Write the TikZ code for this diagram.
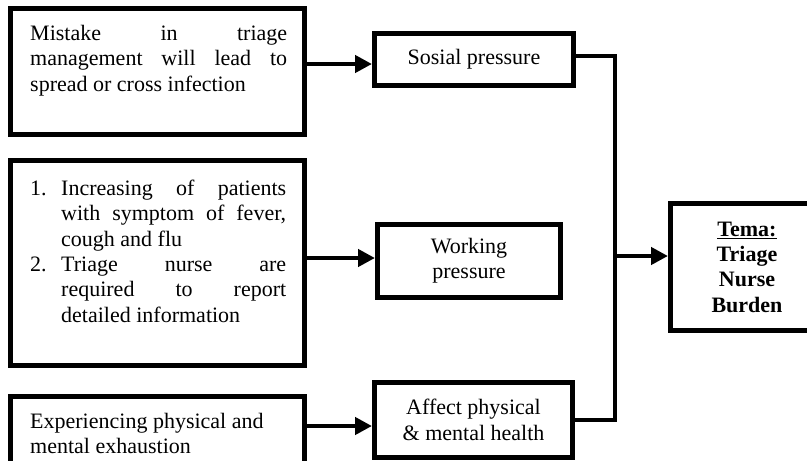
\documentclass[tikz,border=0pt]{standalone}
\usepackage{fontspec}
\setmainfont{Liberation Serif}
\usetikzlibrary{arrows.meta}
\begin{document}
\begin{tikzpicture}[x=1pt,y=-1pt,
  box/.style={draw,line width=5pt,rectangle,inner sep=0pt},
  txt/.style={inner sep=0pt,font=\fontsize{22}{25.3}\selectfont,align=left},
  ctxt/.style={font=\fontsize{22}{25.3}\selectfont,align=center},
  conn/.style={line width=4.5pt},
  arr/.style={line width=4.5pt,-{Triangle[length=17pt,width=17pt]}}]
\useasboundingbox (0,0) rectangle (807,461);
\clip (0,0) rectangle (807,461);
% left boxes
\node[box,minimum width=294pt,minimum height=126pt] (boxA) at (157.5,71.5) {};
\node[box,minimum width=294pt,minimum height=205pt] (boxB) at (157.5,263) {};
\node[box,minimum width=294pt,minimum height=100pt] (boxC) at (157.5,446.5) {};
\node[txt,anchor=north west] (tA) at (30,25) {%
\hbox to 257pt{Mistake\hfill in\hfill triage}\\
\hbox to 257pt{management\hfill will\hfill lead\hfill to}\\
spread or cross infection};
\node[txt,anchor=north west] (tB) at (30,180) {%
\makebox[31pt][l]{1.}\hbox to 225pt{Increasing\hfill of\hfill patients}\\
\hspace*{31pt}\hbox to 225pt{with\hfill symptom\hfill of\hfill fever,}\\
\hspace*{31pt}cough and flu\\
\makebox[31pt][l]{2.}\hbox to 225pt{Triage\hfill nurse\hfill are}\\
\hspace*{31pt}\hbox to 225pt{required\hfill to\hfill report}\\
\hspace*{31pt}detailed information};
\node[txt,anchor=north west] (tC) at (30,413) {%
Experiencing physical and\\
mental exhaustion};
% middle boxes
\node[box,ctxt,minimum width=199pt,minimum height=52pt] (sos) at (474,59.5) {Sosial pressure};
\node[box,ctxt,minimum width=183pt,minimum height=73pt] (work) at (469,261) {Working\\pressure};
\node[box,ctxt,minimum width=198pt,minimum height=75pt] (aff) at (473.5,420) {Affect physical\\\& mental health};
% result box
\node[box,ctxt,minimum width=153pt,minimum height=127pt] (tema) at (747,267)
  {\textbf{\underline{Tema:}}\\\textbf{Triage}\\\textbf{Nurse}\\\textbf{Burden}};
% connectors
\draw[arr] ([yshift=-4.5pt]sos.west -| boxA.east) -- ([yshift=-4.5pt]sos.west);
\draw[arr] ([yshift=3pt]work.west -| boxB.east) -- ([yshift=3pt]work.west);
\draw[arr] ([yshift=-6pt]aff.west -| boxC.east) -- ([yshift=-6pt]aff.west);
\coordinate (jn) at (615,256);
\draw[conn] ([yshift=3.5pt]sos.east) -| (jn) |- (aff.east);
\draw[arr] (jn) -- (jn -| tema.west);
\end{tikzpicture}
\end{document}
